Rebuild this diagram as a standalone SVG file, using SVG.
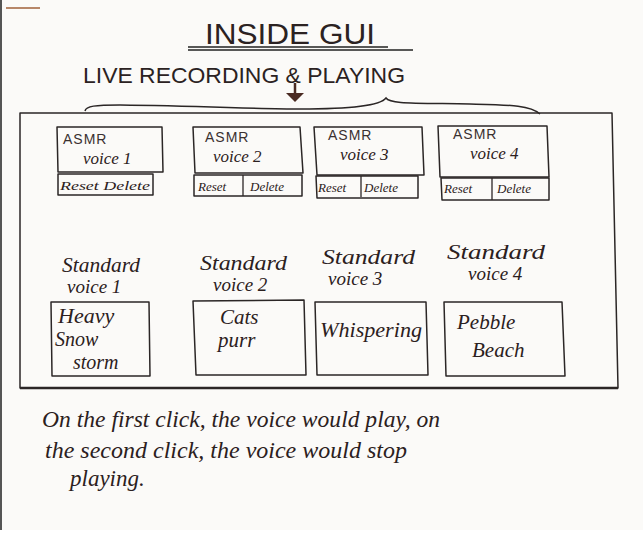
<svg xmlns="http://www.w3.org/2000/svg" width="643" height="543" viewBox="0 0 643 543">
<style>
.box{fill:none;stroke:#2b2626;stroke-width:1.5;stroke-linejoin:round}
.caps{font-family:"Liberation Sans",Arial,sans-serif;fill:#2b2222}
.asmr{font-family:"Liberation Sans",Arial,sans-serif;font-size:14px;fill:#3a3030;letter-spacing:1px}
.cur{font-family:"Liberation Serif","Times New Roman",serif;font-style:italic;fill:#2b2020}
.btn{font-family:"Liberation Serif","Times New Roman",serif;font-style:italic;font-size:13px;fill:#2b2020}
</style>
<rect x="0" y="0" width="643" height="530" fill="#fbfaf8"/>
<rect x="0" y="530" width="643" height="13" fill="#ffffff"/>
<line x1="1" y1="0" x2="1" y2="530" stroke="#555" stroke-width="2"/>
<path d="M6,8 L40,8" stroke="#a0603a" stroke-width="1.5" fill="none"/>

<g id="title">
  <text class="caps" x="205" y="44" font-size="29" textLength="170" lengthAdjust="spacingAndGlyphs">INSIDE GUI</text>
  <line x1="188" y1="47" x2="388" y2="47" stroke="#222" stroke-width="1.5"/>
  <line x1="188" y1="50" x2="413" y2="50" stroke="#222" stroke-width="1.5"/>
</g>
<g id="subtitle">
  <text class="caps" x="83" y="83" font-size="22" textLength="322" lengthAdjust="spacingAndGlyphs">LIVE RECORDING &amp; PLAYING</text>
</g>

<g id="connectors">
  <line x1="295" y1="83" x2="295" y2="94" stroke="#4a2a22" stroke-width="2.5"/>
  <path d="M286,93 L304,93 L295,102 Z" fill="#4a2a22"/>
  <path d="M85,111 C86,106 95,105 120,105 C200,106 260,109 300,109 C350,109 380,106 386,98 C390,104 410,103 470,104 C510,105 530,105 540,114" fill="none" stroke="#2b2626" stroke-width="1.5"/>
</g>

<g id="panel">
  <path class="box" d="M20,113 L612,113 L618,388 L20,388 Z"/>
  <line x1="20" y1="388" x2="618" y2="388" stroke="#2b2626" stroke-width="2.5"/>
</g>

<g id="asmr1">
  <path class="box" d="M57,127 L162,127 L163,172 L58,172 Z"/>
  <text class="asmr" x="63" y="144">ASMR</text>
  <text class="cur" x="83" y="164" font-size="17">voice 1</text>
  <path class="box" d="M58,174 L153,174 L153,195 L58,195 Z"/>
  <text class="btn" x="60" y="190" textLength="90" lengthAdjust="spacingAndGlyphs">Reset  Delete</text>
</g>
<g id="asmr2">
  <path class="box" d="M193,127 L300,127 L303,173 L195,173 Z"/>
  <text class="asmr" x="205" y="142">ASMR</text>
  <text class="cur" x="213" y="162" font-size="17">voice 2</text>
  <path class="box" d="M194,175 L302,175 L302,196 L194,196 Z"/>
  <line x1="243" y1="175" x2="243" y2="196" stroke="#2b2626" stroke-width="1.3"/>
  <text class="btn" x="198" y="191">Reset</text>
  <text class="btn" x="250" y="191">Delete</text>
</g>
<g id="asmr3">
  <path class="box" d="M314,127 L422,127 L424,175 L317,175 Z"/>
  <text class="asmr" x="328" y="140">ASMR</text>
  <text class="cur" x="340" y="160" font-size="17">voice 3</text>
  <path class="box" d="M316,176 L418,176 L418,198 L317,198 Z"/>
  <line x1="361" y1="176" x2="361" y2="197" stroke="#2b2626" stroke-width="1.3"/>
  <text class="btn" x="318" y="192">Reset</text>
  <text class="btn" x="364" y="192">Delete</text>
</g>
<g id="asmr4">
  <path class="box" d="M438,126 L547,126 L549,177 L440,177 Z"/>
  <text class="asmr" x="453" y="139">ASMR</text>
  <text class="cur" x="470" y="159" font-size="17">voice 4</text>
  <path class="box" d="M441,178 L549,178 L549,200 L442,200 Z"/>
  <line x1="492" y1="178" x2="492" y2="200" stroke="#2b2626" stroke-width="1.3"/>
  <text class="btn" x="444" y="193">Reset</text>
  <text class="btn" x="497" y="193">Delete</text>
</g>

<g id="standard1">
  <text class="cur" x="62" y="272" font-size="20" textLength="78" lengthAdjust="spacingAndGlyphs">Standard</text>
  <text class="cur" x="67" y="293" font-size="19">voice 1</text>
  <path class="box" d="M51,302 L149,302 L150,376 L52,376 Z"/>
  <text class="cur" x="58" y="323" font-size="22">Heavy</text>
  <text class="cur" x="55" y="346" font-size="20">Snow</text>
  <text class="cur" x="73" y="369" font-size="20">storm</text>
</g>
<g id="standard2">
  <text class="cur" x="200" y="270" font-size="20" textLength="87" lengthAdjust="spacingAndGlyphs">Standard</text>
  <text class="cur" x="213" y="291" font-size="19">voice 2</text>
  <path class="box" d="M193,301 L304,300 L306,375 L196,375 Z"/>
  <text class="cur" x="220" y="324" font-size="21">Cats</text>
  <text class="cur" x="218" y="347" font-size="21">purr</text>
</g>
<g id="standard3">
  <text class="cur" x="322" y="264" font-size="20" textLength="93" lengthAdjust="spacingAndGlyphs">Standard</text>
  <text class="cur" x="328" y="285" font-size="19">voice 3</text>
  <path class="box" d="M315,302 L426,302 L428,375 L317,375 Z"/>
  <text class="cur" x="320" y="337" font-size="21" textLength="102" lengthAdjust="spacingAndGlyphs">Whispering</text>
</g>
<g id="standard4">
  <text class="cur" x="447" y="259" font-size="20" textLength="98" lengthAdjust="spacingAndGlyphs">Standard</text>
  <text class="cur" x="468" y="280" font-size="19">voice 4</text>
  <path class="box" d="M444,302 L562,302 L565,376 L446,376 Z"/>
  <text class="cur" x="457" y="329" font-size="21">Pebble</text>
  <text class="cur" x="472" y="357" font-size="21">Beach</text>
</g>

<g id="note">
  <text class="cur" x="42" y="427" font-size="23" textLength="398" lengthAdjust="spacingAndGlyphs">On the first click, the voice would play, on</text>
  <text class="cur" x="45" y="458" font-size="23" textLength="362" lengthAdjust="spacingAndGlyphs">the second click, the voice would stop</text>
  <text class="cur" x="70" y="486" font-size="23">playing.</text>
</g>
</svg>
